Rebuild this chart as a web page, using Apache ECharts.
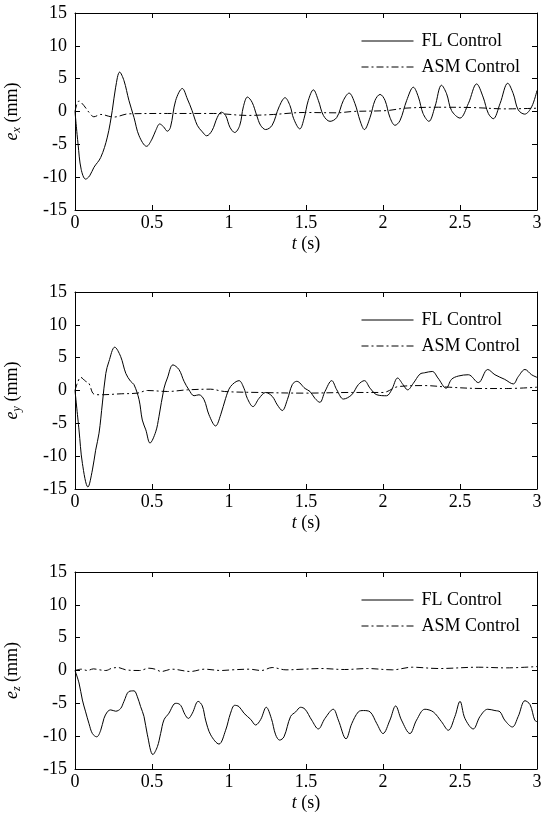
<!DOCTYPE html>
<html>
<head>
<meta charset="utf-8">
<script src="https://cdn.jsdelivr.net/npm/echarts@6/dist/echarts.min.js"></script>
<style>
html,body{margin:0;padding:0;background:#fff;}
#main{width:542px;height:822px;}
</style>
</head>
<body>
<div id="main"></div>
<script>
// ---- data (t in s, error in mm) ----
var xTicks = [0, 0.5, 1, 1.5, 2, 2.5, 3];
var yTicks = [-15, -10, -5, 0, 5, 10, 15];
var seriesNames = ['FL Control', 'ASM Control'];
var yNames = ['x', 'y', 'z'];

var exFL = [[0,0],[0.02,-5],[0.04,-8.8],[0.069,-10.3],[0.095,-9.8],[0.123,-8.5],[0.167,-7],[0.21,-3.9],[0.242,0.15],[0.264,3.7],[0.29,6.0],[0.318,4.7],[0.35,1.7],[0.383,-0.9],[0.416,-3.7],[0.465,-5.3],[0.5,-4.2],[0.524,-2.9],[0.55,-1.9],[0.574,-2.3],[0.6,-3.0],[0.62,-2.4],[0.654,1.7],[0.697,3.5],[0.73,1.9],[0.76,0.15],[0.794,-2.1],[0.827,-3.1],[0.855,-3.7],[0.89,-2.9],[0.924,-0.9],[0.95,-0.1],[0.978,-0.6],[1.006,-2.4],[1.037,-3.2],[1.07,-2.1],[1.093,0.7],[1.12,2.2],[1.15,1.4],[1.18,-0.6],[1.205,-2.1],[1.238,-2.75],[1.28,-2.1],[1.325,0.7],[1.364,2.1],[1.396,0.9],[1.42,-1.1],[1.46,-2.65],[1.487,-1.1],[1.515,1.7],[1.548,3.3],[1.58,1.7],[1.613,-0.6],[1.656,-1.5],[1.7,-0.9],[1.743,1.7],[1.78,2.8],[1.818,1.2],[1.851,-1.4],[1.879,-2.75],[1.916,-0.9],[1.948,1.7],[1.981,2.6],[2.013,1.7],[2.045,-0.9],[2.078,-2.1],[2.11,-1.4],[2.154,1.7],[2.197,3.7],[2.23,2.2],[2.26,-0.3],[2.298,-1.5],[2.337,0.7],[2.38,4.0],[2.413,2.7],[2.445,0.15],[2.5,-1.0],[2.554,1.2],[2.608,4.2],[2.65,2.2],[2.684,-0.3],[2.716,-1.1],[2.76,1.2],[2.81,4.3],[2.846,2.7],[2.878,0.25],[2.92,-0.4],[2.965,0.7],[3,3.2]];
var exASM = [[0,0],[0.026,1.6],[0.058,0.9],[0.09,-0.1],[0.123,-0.8],[0.167,-0.45],[0.25,-0.85],[0.35,-0.35],[0.6,-0.3],[0.9,-0.3],[1.12,-0.6],[1.2,-0.55],[1.29,-0.45],[1.49,-0.15],[1.7,-0.2],[1.8,0],[2.03,0.15],[2.14,0.5],[2.36,0.65],[2.58,0.6],[2.8,0.4],[3,0.5]];

var eyFL = [[0,0],[0.026,-6],[0.048,-11.1],[0.084,-14.7],[0.113,-12.1],[0.134,-9.1],[0.156,-6.5],[0.178,-1.9],[0.2,2.6],[0.22,4.4],[0.258,6.6],[0.296,5.2],[0.33,2.6],[0.361,1.4],[0.383,0.9],[0.416,-1.4],[0.437,-4.5],[0.46,-6],[0.487,-8.0],[0.524,-6.3],[0.545,-4],[0.578,0.35],[0.6,1.9],[0.636,3.9],[0.675,3.2],[0.708,1.4],[0.74,0.1],[0.773,-0.8],[0.805,-0.65],[0.838,-1.4],[0.87,-3.7],[0.913,-5.4],[0.946,-3.7],[0.978,-1.2],[1.01,0.6],[1.065,1.5],[1.097,0.35],[1.119,-1.2],[1.156,-2.45],[1.195,-1.2],[1.238,-0.3],[1.281,-0.9],[1.314,-2.2],[1.346,-3.05],[1.379,-1.4],[1.411,0.9],[1.44,1.4],[1.494,0.3],[1.526,-0.15],[1.558,-1.2],[1.59,-1.8],[1.623,-0.15],[1.667,1.5],[1.7,0.1],[1.743,-1.3],[1.797,-0.65],[1.84,0.9],[1.879,1.5],[1.916,0.35],[1.96,-0.65],[2.023,-0.8],[2.056,0.1],[2.095,1.9],[2.13,0.9],[2.16,0.1],[2.197,1.1],[2.24,2.5],[2.27,2.7],[2.32,2.9],[2.357,1.9],[2.41,0.35],[2.445,1.7],[2.489,2.2],[2.554,2.4],[2.619,1.2],[2.68,3.2],[2.727,2.4],[2.79,1.7],[2.846,1.0],[2.878,2.1],[2.922,3.2],[2.965,2.4],[3,2.0]];
var eyASM = [[0,0],[0.015,1.1],[0.037,2.0],[0.069,1.4],[0.09,1.1],[0.123,-0.55],[0.167,-0.65],[0.3,-0.5],[0.405,-0.4],[0.47,0],[0.6,-0.15],[0.73,0.1],[0.88,0.2],[0.97,-0.15],[1.2,-0.3],[1.49,-0.4],[1.8,-0.3],[2.0,-0.3],[2.1,0.6],[2.27,0.75],[2.43,0.5],[2.65,0.3],[2.8,0.3],[3,0.5]];

var ezFL = [[0,0],[0.026,-1.9],[0.048,-4.5],[0.069,-6.3],[0.091,-8.1],[0.113,-9.6],[0.141,-10.1],[0.167,-9.1],[0.188,-7.3],[0.21,-6.3],[0.232,-6.0],[0.264,-6.2],[0.296,-5.8],[0.318,-4.7],[0.35,-3.2],[0.383,-3.1],[0.405,-4.0],[0.426,-5.5],[0.448,-7.0],[0.47,-9.8],[0.506,-12.8],[0.535,-11.6],[0.556,-9.6],[0.578,-7.5],[0.61,-6.5],[0.643,-5.1],[0.66,-5.0],[0.686,-5.3],[0.714,-6.7],[0.736,-7.3],[0.762,-6.5],[0.8,-4.7],[0.827,-5.4],[0.848,-7.55],[0.881,-9.8],[0.935,-11.2],[0.978,-9.1],[1.01,-6.5],[1.037,-5.3],[1.065,-5.5],[1.097,-6.5],[1.141,-7.45],[1.173,-8.3],[1.206,-7.45],[1.242,-5.6],[1.275,-7.3],[1.303,-9.8],[1.329,-10.6],[1.357,-10.1],[1.4,-7.0],[1.433,-6.3],[1.465,-5.6],[1.494,-5.9],[1.537,-7.55],[1.58,-8.9],[1.623,-7.3],[1.677,-5.9],[1.71,-7.55],[1.76,-10.4],[1.797,-8.1],[1.84,-6.3],[1.873,-6.1],[1.916,-6.3],[1.96,-8.1],[2.0,-9.6],[2.045,-7.55],[2.082,-5.4],[2.12,-7.55],[2.175,-9.6],[2.218,-7.55],[2.272,-5.9],[2.326,-6.3],[2.38,-7.8],[2.424,-9.1],[2.467,-7.0],[2.5,-4.7],[2.532,-7.3],[2.586,-8.9],[2.63,-7.0],[2.68,-5.9],[2.727,-6.1],[2.76,-6.3],[2.79,-7.55],[2.84,-8.6],[2.878,-7.0],[2.922,-4.6],[2.955,-5.2],[2.985,-7.55],[3,-7.8]];
var ezASM = [[0,0],[0.04,0.2],[0.08,0],[0.12,0.25],[0.16,0.1],[0.2,0],[0.24,0.35],[0.28,0.45],[0.33,0.1],[0.42,0],[0.48,0.35],[0.52,0.2],[0.56,-0.15],[0.63,0.2],[0.75,-0.15],[0.84,0.2],[0.95,0],[1.02,0.1],[1.13,0.2],[1.21,0],[1.28,0.45],[1.37,0.1],[1.48,0.2],[1.6,0.3],[1.75,0.15],[1.9,0.3],[2.06,0.1],[2.19,0.5],[2.36,0.3],[2.62,0.5],[2.8,0.4],[3,0.6]];

var FL = [exFL, eyFL, ezFL];
var ASM = [exASM, eyASM, ezASM];

// ---- layout / style ----
var serif = "'Liberation Serif','Times New Roman',serif";
var gridTops = [13, 292, 572];
var gridH = 197;
var dashDot = [7, 3, 2, 3];
var fs = 18;

var grids = [], xAxes = [], yAxes = [], series = [], legends = [];
for (var i = 0; i < 3; i++) {
  grids.push({left: 75, right: 5, top: gridTops[i], height: gridH, containLabel: false, outerBoundsMode: 'none'});
  var axLine = {show: true, onZero: false, lineStyle: {color: '#000', width: 1}};
  var tick = {show: true, inside: true, length: 5, lineStyle: {color: '#000'}};
  xAxes.push({
    gridIndex: i, type: 'value', position: 'bottom', min: xTicks[0], max: xTicks[xTicks.length-1], interval: xTicks[1]-xTicks[0],
    axisLine: axLine, axisTick: tick, splitLine: {show: false},
    axisLabel: {color: '#000', fontFamily: serif, fontSize: fs, margin: 4, showMinLabel: true, showMaxLabel: true},
    name: '{i|t} (s)', nameLocation: 'middle', nameGap: 25,
    nameTextStyle: {color: '#000', fontFamily: serif, fontSize: fs,
      rich: {i: {fontStyle: 'italic', fontFamily: serif, fontSize: fs, color: '#000'}}}
  });
  xAxes.push({
    gridIndex: i, type: 'value', position: 'top', min: xTicks[0], max: xTicks[xTicks.length-1], interval: xTicks[1]-xTicks[0],
    axisLine: axLine, axisTick: tick, axisLabel: {show: false}, splitLine: {show: false}
  });
  yAxes.push({
    gridIndex: i, type: 'value', position: 'left', min: yTicks[0], max: yTicks[yTicks.length-1], interval: yTicks[1]-yTicks[0],
    axisLine: axLine, axisTick: tick, splitLine: {show: false},
    axisLabel: {color: '#000', fontFamily: serif, fontSize: fs, margin: 8, showMinLabel: true, showMaxLabel: true},
    name: '{i|e}{s|' + yNames[i] + '} (mm)', nameLocation: 'middle', nameGap: 52, nameRotate: 90,
    nameTextStyle: {color: '#000', fontFamily: serif, fontSize: fs, lineHeight: 22,
      rich: {
        i: {fontStyle: 'italic', fontFamily: serif, fontSize: fs, color: '#000', lineHeight: 22},
        s: {fontStyle: 'italic', fontFamily: serif, fontSize: 12, color: '#000', lineHeight: 22, verticalAlign: 'bottom'}
      }}
  });
  yAxes.push({
    gridIndex: i, type: 'value', position: 'right', min: yTicks[0], max: yTicks[yTicks.length-1], interval: yTicks[1]-yTicks[0],
    axisLine: axLine, axisTick: tick, axisLabel: {show: false}, splitLine: {show: false}
  });
  series.push({
    name: seriesNames[0], type: 'line', xAxisIndex: 2*i, yAxisIndex: 2*i, data: FL[i],
    symbol: 'none', smooth: 0.35, itemStyle: {color: '#000'},
    lineStyle: {color: '#000', width: 1, type: 'solid'}, silent: true, animation: false
  });
  series.push({
    name: seriesNames[1], type: 'line', xAxisIndex: 2*i, yAxisIndex: 2*i, data: ASM[i],
    symbol: 'none', smooth: 0.35, itemStyle: {color: '#000'},
    lineStyle: {color: '#000', width: 1, type: dashDot}, silent: true, animation: false
  });
  legends.push({
    data: seriesNames, orient: 'vertical', left: 361, top: gridTops[i] + 19, padding: 0,
    itemWidth: 52, itemHeight: 14, itemGap: 8, selectedMode: false,
    itemStyle: {opacity: 0},
    lineStyle: {width: 1, color: '#000'},
    textStyle: {color: '#000', fontFamily: serif, fontSize: fs, padding: [0, 0, 0, 3]}
  });
}

var chart = echarts.init(document.getElementById('main'), null, {renderer: 'canvas'});
chart.setOption({
  backgroundColor: '#fff',
  animation: false,
  grid: grids,
  xAxis: xAxes,
  yAxis: yAxes,
  legend: legends,
  series: series
});
</script>
</body>
</html>
